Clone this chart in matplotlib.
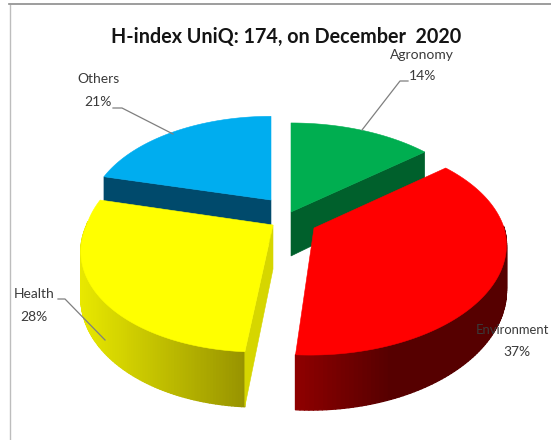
import numpy as np
import matplotlib
matplotlib.use("Agg")
import matplotlib.pyplot as plt
from matplotlib.collections import PolyCollection
from matplotlib.colors import to_rgb

title = "H-index UniQ: 174, on December  2020"
categories = ["Agronomy", "Environment", "Health", "Others"]
shares = [14, 37, 28, 21]
top_colors = ["#00AE50", "#FF0000", "#FFFF00", "#00ADEF"]
cut_colors = ["#00602C", "#5A0000", "#D6D600", "#004A6C"]
wall_left = ["#00602C", "#900000", "#E8E800", "#004A6C"]
wall_right = ["#00602C", "#560000", "#989400", "#004A6C"]

# layout per wedge, in pixels: apex, radius scale, skew of the front
apex = {"Agronomy": (291, 212), "Environment": (314, 228), "Health": (273, 225), "Others": (271, 200)}
rscale = {"Agronomy": 1.0, "Environment": 1.0, "Health": 1.0, "Others": 0.93}
xscale = {"Agronomy": 1.0, "Environment": 0.985, "Health": 0.965, "Others": 1.0}
skew = {"Agronomy": 0, "Environment": 4, "Health": 14, "Others": 0}
RX, RY, PERSP, DEPTH, DEPTH_P = 193, 104.7, 0.176, 44, 0.2


def project(name, theta, r=1.0):
    X = r * np.sin(theta) * rscale[name]
    Y = r * np.cos(theta) * rscale[name]
    w = 1 + PERSP * Y
    ax_, ay_ = apex[name]
    sx = ax_ + RX * xscale[name] * X / w + skew[name] * np.minimum(Y, 0)
    sy = ay_ - RY * Y / w
    return sx, sy, DEPTH / (1 + DEPTH_P * Y)


fig = plt.figure(figsize=(5.51, 4.40), dpi=100)
ax = fig.add_axes([0, 0, 1, 1])
ax.set_xlim(0, 551)
ax.set_ylim(440, 0)
ax.axis("off")

# frame
ax.plot([9.5, 9.5], [5, 440], color="#BDBDBD", lw=1.0)
ax.plot([9, 551], [4.5, 4.5], color="#8C8C8C", lw=1.2)

edges = np.concatenate([[0], np.cumsum(shares)]) / sum(shares) * 2 * np.pi
order = [3, 0, 2, 1]
for i in order:
    name = categories[i]
    t0, t1 = edges[i], edges[i + 1]
    th = np.linspace(t0, t1, 121)
    sx, sy, d = project(name, th)
    a = apex[name]
    # wall, graded left to right; only the part that faces the viewer
    lo, hi = np.array(to_rgb(wall_left[i])), np.array(to_rgb(wall_right[i]))
    quads, cols = [], []
    for k in range(len(th) - 1):
        if np.cos(th[k]) > 0.02:
            continue
        quads.append([(sx[k], sy[k]), (sx[k + 1], sy[k + 1]),
                      (sx[k + 1], sy[k + 1] + d[k + 1]), (sx[k], sy[k] + d[k])])
        f = np.clip((sx[k] - sx.min()) / max(sx.max() - sx.min(), 1), 0, 1)
        if name == "Environment":
            f = np.clip(f * 2.2, 0, 1)
        cols.append(lo + (hi - lo) * f)
    if quads:
        ax.add_collection(PolyCollection(quads, facecolors=cols, edgecolors=cols, linewidths=1.0, zorder=2))
    # cut faces
    for t in (t0, t1):
        cx, cy, cd = project(name, np.array(t))
        show = (name == "Agronomy" and t == t1) or (name == "Others" and t == t0) or (name == "Health" and t == t0)
        if show:
            ax.fill([a[0], cx, cx, a[0]], [a[1], cy, cy + cd, a[1] + DEPTH],
                    color=cut_colors[i], lw=0.4, zorder=2.5)
    # top
    ax.fill(np.r_[a[0], sx], np.r_[a[1], sy], color=top_colors[i], lw=0.4, zorder=3)

txt = dict(family="Lato", color="#3A3A3A", va="center", zorder=6)
labels = {"Agronomy": (422, 55, 423, 76), "Environment": (512, 330, 517, 352),
          "Health": (34, 294, 34, 317), "Others": (98, 79, 98, 102)}
for name, s in zip(categories, shares):
    x0, y0, x1, y1 = labels[name]
    ax.text(x0, y0, name, ha="center", fontsize=9.4 if name == "Environment" else 10, **txt)
    ax.text(x1, y1, f"{s}%", ha="center", fontsize=10, **txt)

for xs, ys in ([408, 400, 362], [81, 81, 130]), ([113, 122, 173], [108, 108, 134]), ([58, 65, 105], [299, 299, 340]):
    ax.plot(xs, ys, color="#7F7F7F", lw=0.9, zorder=5)

ax.text(286, 37, title, family="Lato", fontweight="bold", fontsize=14.2, color="#141414",
        ha="center", va="center", zorder=6)

fig.savefig("out.png", dpi=100)
